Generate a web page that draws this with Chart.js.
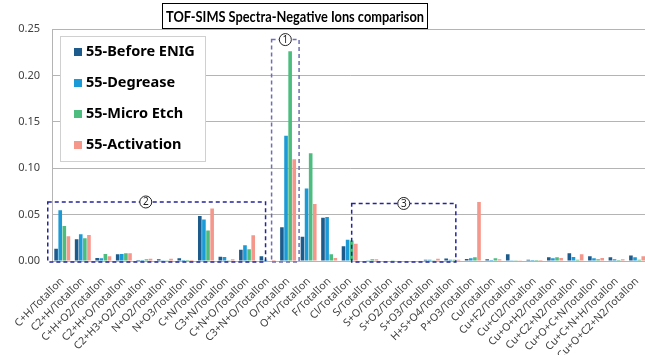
<!DOCTYPE html>
<html>
<head>
<meta charset="utf-8">
<script src="https://cdn.jsdelivr.net/npm/chart.js@4.4.1/dist/chart.umd.min.js"></script>
<style>
  html, body { margin: 0; padding: 0; background: #fff; overflow: hidden; }
  #wrap { width: 652px; height: 355px; }
</style>
</head>
<body>
<div id="wrap"><canvas id="myChart" width="652" height="355"></canvas></div>
<script>
const categories = [
  'C+H/TotalIon', 'C2+H/TotalIon', 'C+H+O2/TotalIon', 'C2+H+O/TotalIon', 'C2+H3+O2/TotalIon',
  'N+O2/TotalIon', 'N+O3/TotalIon', 'C+N/TotalIon', 'C3+N/TotalIon', 'C+N+O/TotalIon',
  'C3+N+O/TotalIon', 'O/TotalIon', 'O+H/TotalIon', 'F/TotalIon', 'Cl/TotalIon',
  'S/TotalIon', 'S+O/TotalIon', 'S+O2/TotalIon', 'S+O3/TotalIon', 'H+S+O4/TotalIon',
  'P+O3/TotalIon', 'Cu/TotalIon', 'Cu+F2/TotalIon', 'Cu+Cl2/TotalIon', 'Cu+O+H2/TotalIon',
  'Cu+C2+N2/TotalIon', 'Cu+O+C+N/TotalIon', 'Cu+C+N+H/TotalIon', 'Cu+O+C2+N2/TotalIon'
];
const seriesNames = ['55-Before ENIG', '55-Degrease', '55-Micro Etch', '55-Activation'];
const beforeEnig = [0.0133, 0.0234, 0.0032, 0.0072, 0.0010, 0.0018, 0.0030, 0.0486, 0.0047, 0.0122,
  0.0050, 0.0363, 0.0262, 0.0467, 0.0158, 0.0005, 0.0005, 0.0005, 0.0014, 0.0028,
  0.0022, 0.0020, 0.0072, 0.0014, 0.0040, 0.0083, 0.0050, 0.0040, 0.0060];
const degrease = [0.0547, 0.0288, 0.0030, 0.0076, 0.0010, 0.0007, 0.0010, 0.0446, 0.0043, 0.0169,
  0.0014, 0.1350, 0.0780, 0.0474, 0.0230, 0.0007, 0.0005, 0.0005, 0.0014, 0.0014,
  0.0030, 0.0010, 0.0003, 0.0010, 0.0030, 0.0043, 0.0030, 0.0018, 0.0040];
const microEtch = [0.0378, 0.0245, 0.0076, 0.0083, 0.0018, 0.0007, 0.0010, 0.0330, 0.0007, 0.0126,
  0.0005, 0.2260, 0.1160, 0.0072, 0.0220, 0.0018, 0.0008, 0.0005, 0.0007, 0.0014,
  0.0040, 0.0030, 0.0003, 0.0010, 0.0040, 0.0014, 0.0018, 0.0010, 0.0014];
const activation = [0.0266, 0.0280, 0.0050, 0.0083, 0.0025, 0.0025, 0.0010, 0.0565, 0.0018, 0.0277,
  0.0010, 0.1096, 0.0614, 0.0032, 0.0187, 0.0018, 0.0005, 0.0005, 0.0025, 0.0014,
  0.0635, 0.0020, 0.0003, 0.0010, 0.0032, 0.0072, 0.0032, 0.0020, 0.0050];
const yTicks = [0, 0.05, 0.10, 0.15, 0.20, 0.25];
const colors = ['#1d5b8c', '#1a9ad6', '#4cbd7e', '#f5978b'];
const titleText = 'TOF-SIMS Spectra-Negative Ions comparison';

// dashed regions around groups of categories
const regions = [
  { from: 11, to: 11, top: 0.2386, label: '1', color: '#6e6eb4', padL: 16.5, padR: 11, labelAt: 0.5 },
  { from: 0, to: 10, top: 0.0636, label: '2', color: '#24249c', padL: 14.5, padR: -2, labelAt: 0.45 },
  { from: 14, to: 19, top: 0.062, label: '3', color: '#24249c', padL: -2, padR: 3.5, labelAt: 0.5 }
];

const titleBox = {
  id: 'titleBox',
  afterDraw(chart) {
    const ctx = chart.ctx;
    ctx.save();
    ctx.fillStyle = '#fff';
    ctx.fillRect(162, 3, 265, 26);
    ctx.strokeStyle = '#000';
    ctx.lineWidth = 1;
    ctx.strokeRect(162.5, 3.5, 265, 25);
    ctx.font = 'bold 16px Lato';
    const w = ctx.measureText(titleText).width;
    ctx.translate(295, 16.5);
    ctx.scale(Math.min(1, 258 / w), 1);
    ctx.fillStyle = '#000';
    ctx.textAlign = 'center';
    ctx.textBaseline = 'middle';
    ctx.fillText(titleText, 0, 0);
    ctx.restore();
  }
};

const regionBoxes = {
  id: 'regionBoxes',
  afterDatasetsDraw(chart) {
    const ctx = chart.ctx;
    const xs = chart.scales.x, ys = chart.scales.y;
    ctx.save();
    regions.forEach(r => {
      const l = xs.getPixelForValue(r.from) - r.padL;
      const rt = xs.getPixelForValue(r.to) + r.padR;
      const t = ys.getPixelForValue(r.top);
      const b = ys.getPixelForValue(0) + 1;
      ctx.setLineDash([4, 3]);
      ctx.lineWidth = 1.5;
      ctx.strokeStyle = r.color;
      ctx.strokeRect(l, t, rt - l, b - t);
      ctx.setLineDash([]);
      const cx = l + (rt - l) * r.labelAt;
      ctx.beginPath();
      ctx.arc(cx, t, 6, 0, Math.PI * 2);
      ctx.fillStyle = '#fff';
      ctx.fill();
      ctx.lineWidth = 1;
      ctx.strokeStyle = '#222';
      ctx.stroke();
      ctx.fillStyle = '#222';
      ctx.font = '10px "Noto Sans"';
      ctx.textAlign = 'center';
      ctx.textBaseline = 'middle';
      ctx.fillText(r.label, cx, t + 0.5);
    });
    ctx.restore();
  }
};

const legendBox = {
  id: 'legendBox',
  afterDraw(chart) {
    const ctx = chart.ctx;
    ctx.save();
    ctx.fillStyle = '#fff';
    ctx.fillRect(60, 36, 145, 126);
    ctx.strokeStyle = '#d0d0d0';
    ctx.lineWidth = 1;
    ctx.strokeRect(60.5, 36.5, 145, 125);
    ctx.font = 'bold 14.5px "Noto Sans"';
    ctx.textBaseline = 'middle';
    ctx.textAlign = 'left';
    chart.data.datasets.forEach((ds, i) => {
      const y = 52 + i * 31;
      ctx.fillStyle = ds.backgroundColor;
      ctx.fillRect(74, y - 4, 8, 8);
      ctx.fillStyle = '#000';
      ctx.fillText(ds.label, 86, y);
    });
    ctx.restore();
  }
};

const ctx = document.getElementById('myChart');
const seriesValues = [beforeEnig, degrease, microEtch, activation];

window.myChart = new Chart(ctx, {
  type: 'bar',
  data: {
    labels: categories,
    datasets: seriesNames.map((name, i) => ({
      label: name,
      data: seriesValues[i],
      backgroundColor: colors[i],
      categoryPercentage: 0.8,
      barPercentage: 0.88
    }))
  },
  options: {
    responsive: false,
    animation: false,
    devicePixelRatio: 1,
    layout: { padding: { top: 29, left: 0, right: 0, bottom: 0 } },
    plugins: {
      legend: { display: false },
      title: { display: false },
      tooltip: { enabled: false }
    },
    scales: {
      x: {
        grid: { display: false },
        border: { display: false },
        ticks: {
          autoSkip: false,
          maxRotation: 45,
          minRotation: 45,
          padding: 6,
          color: '#404040',
          font: { family: 'Noto Sans', size: 10.5 }
        },
        afterFit: s => { s.height = 94; }
      },
      y: {
        min: 0,
        max: 0.25,
        afterBuildTicks: s => { s.ticks = yTicks.map(v => ({ value: v })); },
        ticks: {
          padding: 12,
          color: '#404040',
          font: { family: 'Noto Sans', size: 11 },
          callback: v => v.toFixed(2)
        },
        grid: { color: '#b4b4b4', drawTicks: false },
        border: { display: true, color: '#b4b4b4' },
        afterFit: s => { s.width = 52; }
      }
    }
  },
  plugins: [regionBoxes, legendBox, titleBox]
});
</script>
</body>
</html>
